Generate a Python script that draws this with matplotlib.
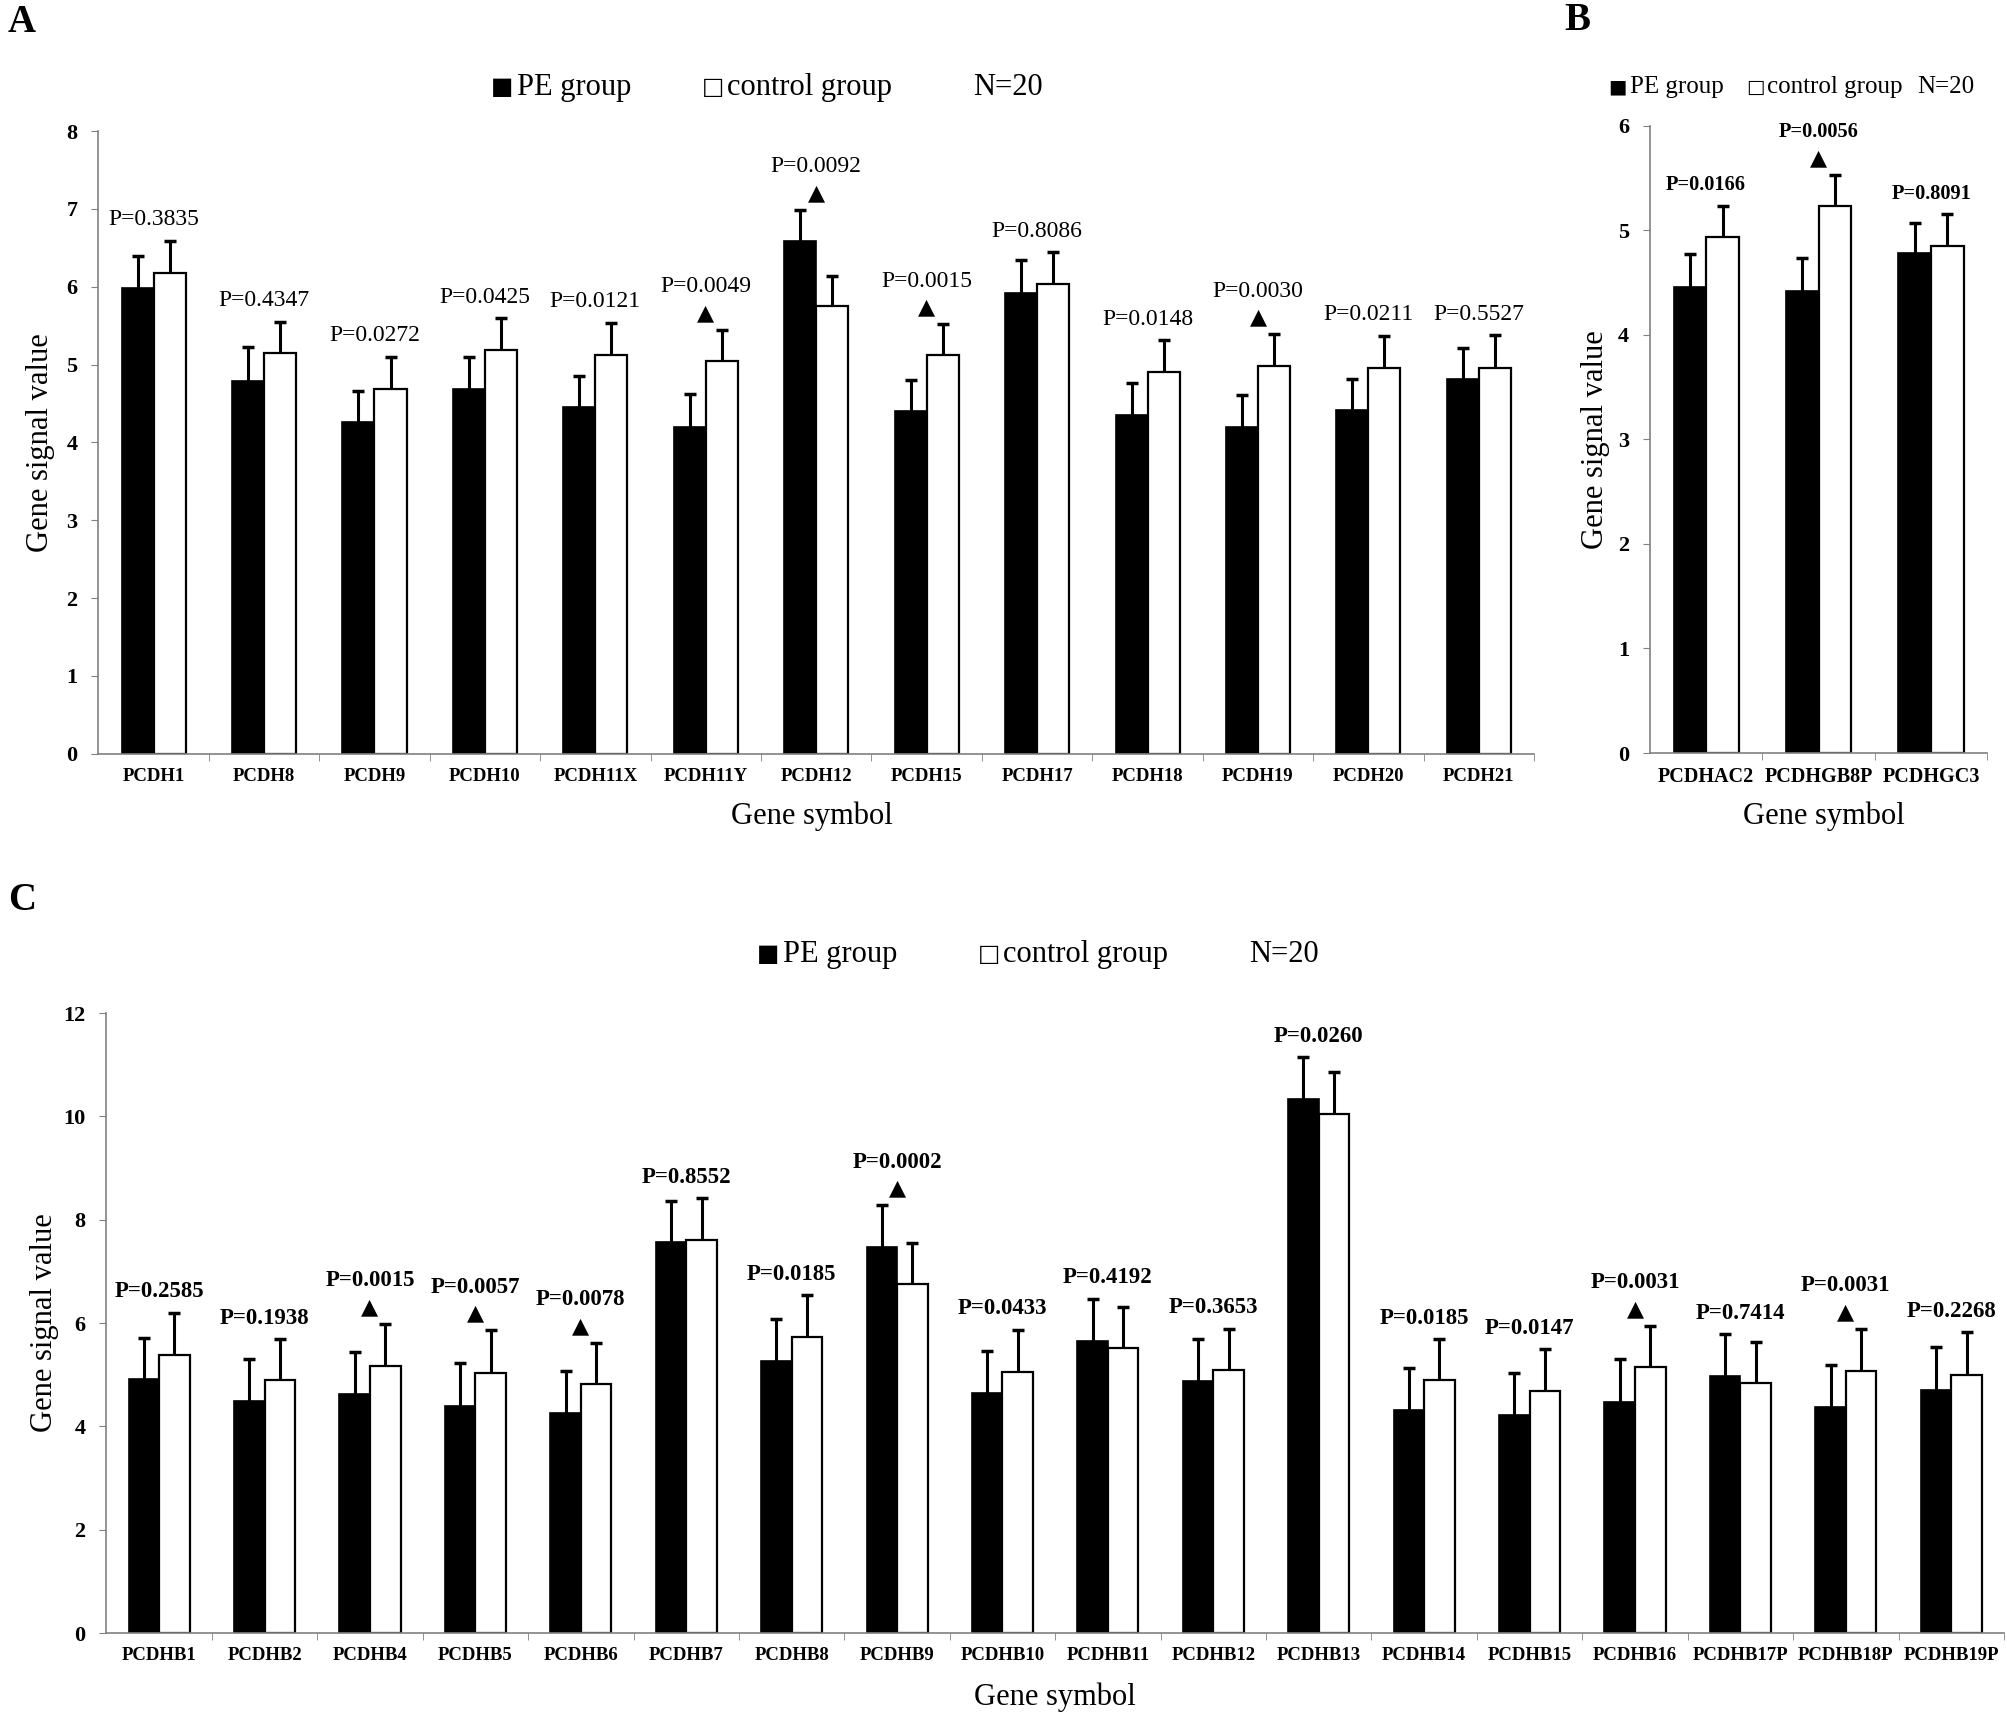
import numpy as np
import matplotlib
matplotlib.use("Agg")
import matplotlib.pyplot as plt

plt.rcParams['font.family'] = ['Liberation Serif', 'DejaVu Sans']

# ---- panel A data ----
genes_a = ["PCDH1", "PCDH8", "PCDH9", "PCDH10", "PCDH11X", "PCDH11Y", "PCDH12",
           "PCDH15", "PCDH17", "PCDH18", "PCDH19", "PCDH20", "PCDH21"]
pe_a = [5.98, 4.79, 4.26, 4.69, 4.45, 4.20, 6.59, 4.40, 5.92, 4.35, 4.20, 4.41, 4.81]
pe_sd_a = [0.41, 0.43, 0.40, 0.41, 0.40, 0.42, 0.40, 0.40, 0.42, 0.41, 0.41, 0.40, 0.40]
ctrl_a = [6.17, 5.15, 4.69, 5.19, 5.12, 5.04, 5.75, 5.12, 6.03, 4.91, 4.98, 4.96, 4.96]
ctrl_sd_a = [0.42, 0.40, 0.41, 0.41, 0.42, 0.41, 0.39, 0.40, 0.41, 0.40, 0.41, 0.41, 0.42]
p_a = ["0.3835", "0.4347", "0.0272", "0.0425", "0.0121", "0.0049", "0.0092",
       "0.0015", "0.8086", "0.0148", "0.0030", "0.0211", "0.5527"]

# ---- panel B data ----
genes_b = ["PCDHAC2", "PCDHGB8P", "PCDHGC3"]
pe_b = [4.46, 4.42, 4.78]
pe_sd_b = [0.31, 0.31, 0.29]
ctrl_b = [4.93, 5.23, 4.85]
ctrl_sd_b = [0.30, 0.30, 0.30]
p_b = ["0.0166", "0.0056", "0.8091"]

# ---- panel C data ----
genes_c = ["PCDHB1", "PCDHB2", "PCDHB4", "PCDHB5", "PCDHB6", "PCDHB7", "PCDHB8",
           "PCDHB9", "PCDHB10", "PCDHB11", "PCDHB12", "PCDHB13", "PCDHB14",
           "PCDHB15", "PCDHB16", "PCDHB17P", "PCDHB18P", "PCDHB19P"]
pe_c = [4.92, 4.50, 4.63, 4.40, 4.25, 7.56, 5.27, 7.47, 4.65, 5.65, 4.88, 10.34,
        4.32, 4.22, 4.47, 4.98, 4.37, 4.71]
pe_sd_c = [0.80, 0.81, 0.80, 0.82, 0.82, 0.81, 0.81, 0.81, 0.81, 0.82, 0.81, 0.81,
           0.80, 0.81, 0.83, 0.81, 0.81, 0.82]
ctrl_c = [5.38, 4.89, 5.17, 5.04, 4.82, 7.60, 5.73, 6.75, 5.05, 5.51, 5.09, 10.05,
          4.89, 4.69, 5.14, 4.84, 5.07, 4.99]
ctrl_sd_c = [0.82, 0.80, 0.82, 0.82, 0.80, 0.82, 0.81, 0.79, 0.82, 0.80, 0.80, 0.81,
             0.80, 0.80, 0.81, 0.80, 0.82, 0.83]
p_c = ["0.2585", "0.1938", "0.0015", "0.0057", "0.0078", "0.8552", "0.0185",
       "0.0002", "0.0433", "0.4192", "0.3653", "0.0260", "0.0185", "0.0147",
       "0.0031", "0.7414", "0.0031", "0.2268"]

GRAY = '#808080'


def draw_panel(ax, genes, pe, pe_sd, ctrl, ctrl_sd, pvals, ymax, ystep,
               gene_fs, p_fs, p_bold, tick_fs, ylab_x, xlab_y, xlab_x):
    n = len(genes)
    x = np.arange(n) + 0.5
    w = 0.29
    pe = np.array(pe)
    ctrl = np.array(ctrl)
    top_pe = pe + np.array(pe_sd)
    top_ctrl = ctrl + np.array(ctrl_sd)

    ax.bar(x - w / 2, pe, w, color='black', edgecolor='black', linewidth=1.2, zorder=2)
    ax.bar(x + w / 2, ctrl, w, color='white', edgecolor='black', linewidth=1.6, zorder=2)

    # upper error bars only
    for xs, base, top in [(x - w / 2, pe, top_pe), (x + w / 2, ctrl, top_ctrl)]:
        ax.vlines(xs, base, top, color='black', linewidth=2.2, zorder=3)
        ax.plot(xs, top, linestyle='none', marker='_', markersize=9,
                markeredgewidth=2.5, color='black', zorder=3)

    # P values and significance triangles
    for i in range(n):
        t = max(top_pe[i], top_ctrl[i])
        sig = float(pvals[i]) < 0.01
        off = 31 if sig else 15
        ax.annotate("P=" + pvals[i], (x[i], t), xytext=(0, off),
                    textcoords='offset points', ha='center', va='center',
                    fontsize=p_fs, fontweight='bold' if p_bold else 'normal')
        if sig:
            ax.annotate("\u25B2", (x[i], t), xytext=(0, 12),
                        textcoords='offset points', ha='center', va='center',
                        fontsize=16, family=['DejaVu Sans'])

    ax.set_xlim(0, n)
    ax.set_ylim(0, ymax)
    ax.set_yticks(np.arange(0, ymax + 0.01, ystep))
    ax.set_yticklabels([str(int(v)) for v in np.arange(0, ymax + 0.01, ystep)],
                       fontsize=tick_fs, fontweight='bold')
    ax.set_xticks(x)
    ax.set_xticklabels(genes, fontsize=gene_fs, fontweight='bold')
    ax.set_xticks(np.arange(1, n + 1), minor=True)
    ax.tick_params(axis='x', which='major', length=0, pad=10)
    ax.tick_params(axis='x', which='minor', length=5, color=GRAY, direction='out')
    ax.tick_params(axis='y', length=5, color=GRAY, direction='out', pad=10)

    for s in ['top', 'right']:
        ax.spines[s].set_visible(False)
    for s in ['left', 'bottom']:
        ax.spines[s].set_color(GRAY)
        ax.spines[s].set_linewidth(1.2)

    ax.set_ylabel("Gene signal value", fontsize=22)
    ax.yaxis.set_label_coords(ylab_x, 0.5)
    ax.set_xlabel("Gene symbol", fontsize=22)
    ax.xaxis.set_label_coords(xlab_x, xlab_y)


def legend_row(fig, y, xs, fs, sq_fs):
    # xs: black square, PE text, white square, control text, N text
    fig.text(xs[0], y, "\u25A0", fontsize=sq_fs, va='center', ha='left',
             family=['DejaVu Sans'])
    fig.text(xs[1], y, "PE group", fontsize=fs, va='center', ha='left')
    fig.text(xs[2], y, "\u25A1", fontsize=sq_fs, va='center', ha='left',
             family=['DejaVu Sans'])
    fig.text(xs[3], y, "control group", fontsize=fs, va='center', ha='left')
    fig.text(xs[4], y, "N=20", fontsize=fs, va='center', ha='left')


fig = plt.figure(figsize=(20.08, 17.13), dpi=100)

ax_a = fig.add_axes([0.049, 0.560, 0.715, 0.3635])
draw_panel(ax_a, genes_a, pe_a, pe_sd_a, ctrl_a, ctrl_sd_a, p_a, 8, 1,
           gene_fs=13.5, p_fs=17, p_bold=False, tick_fs=16,
           ylab_x=-0.030, xlab_y=-0.077, xlab_x=0.497)

ax_b = fig.add_axes([0.8217, 0.5604, 0.1680, 0.3663])
draw_panel(ax_b, genes_b, pe_b, pe_sd_b, ctrl_b, ctrl_sd_b, p_b, 6, 1,
           gene_fs=14.5, p_fs=14.7, p_bold=True, tick_fs=16,
           ylab_x=-0.118, xlab_y=-0.078, xlab_x=0.516)

ax_c = fig.add_axes([0.053, 0.0467, 0.945, 0.3619])
draw_panel(ax_c, genes_c, pe_c, pe_sd_c, ctrl_c, ctrl_sd_c, p_c, 12, 2,
           gene_fs=13.5, p_fs=16.5, p_bold=True, tick_fs=16,
           ylab_x=-0.025, xlab_y=-0.080, xlab_x=0.50)

legend_row(fig, 0.949, [0.2445, 0.2575, 0.3495, 0.362, 0.4847], 22, 17)
legend_row(fig, 0.949, [0.8010, 0.8118, 0.8695, 0.880, 0.9547], 18, 14)
legend_row(fig, 0.443, [0.3770, 0.390, 0.4870, 0.4996, 0.622], 22, 17)

fig.text(0.004, 0.9866, "A", fontsize=28, fontweight='bold', va='center')
fig.text(0.779, 0.988, "B", fontsize=28, fontweight='bold', va='center')
fig.text(0.004, 0.4745, "C", fontsize=28, fontweight='bold', va='center')

fig.savefig("out.png", dpi=100, facecolor='white')
